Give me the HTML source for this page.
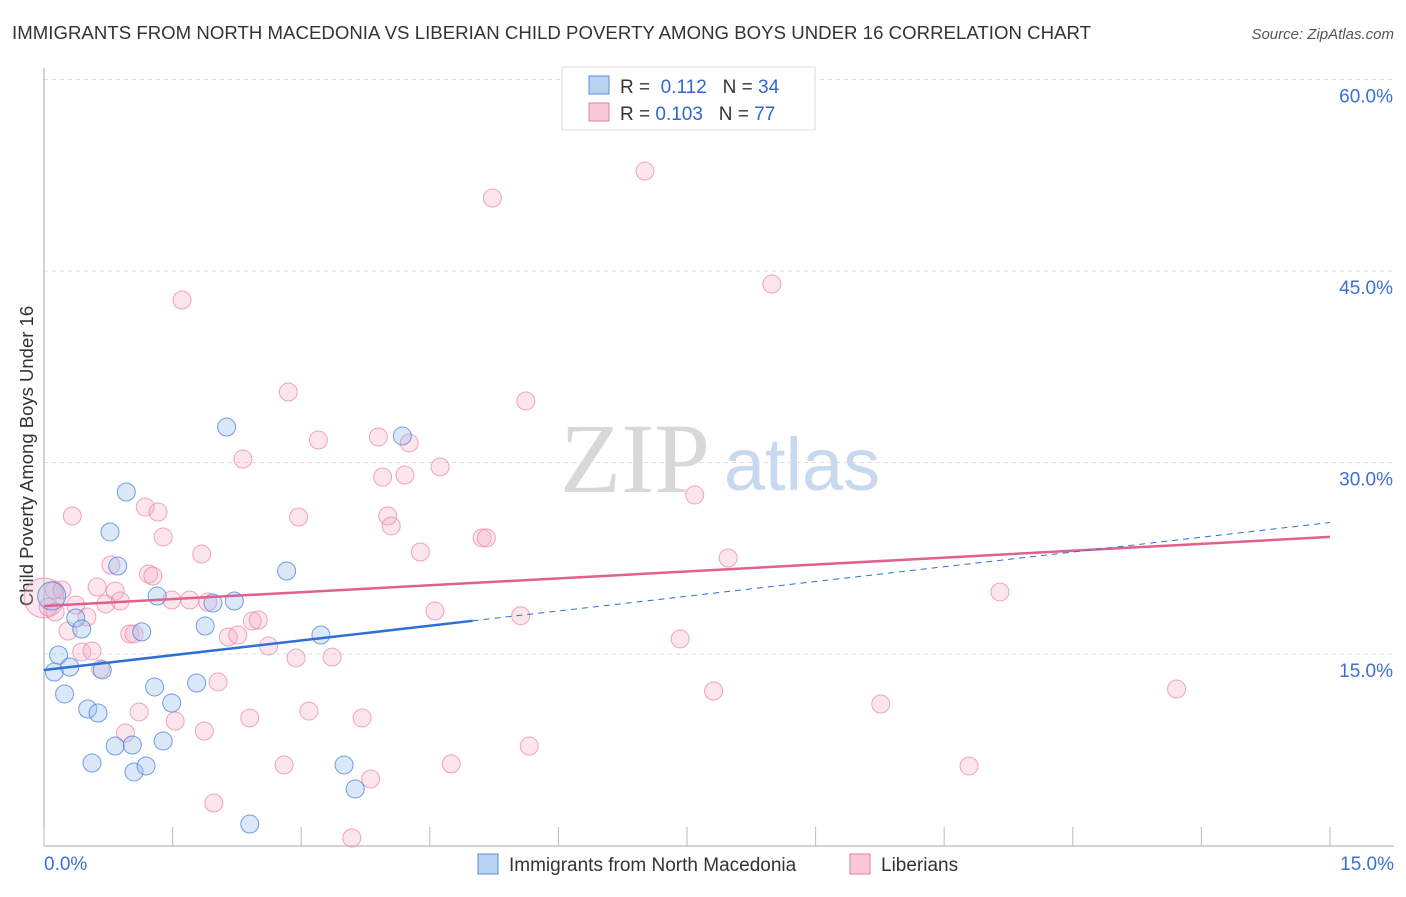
<!DOCTYPE html>
<html><head><meta charset="utf-8"><style>
body{margin:0;background:#fff;font-family:"Liberation Sans",sans-serif;}
</style></head><body>
<svg id="chart" width="1406" height="892" xmlns="http://www.w3.org/2000/svg" font-family="Liberation Sans, sans-serif">
<text x="12" y="39" font-size="18.6" fill="#333" textLength="1079">IMMIGRANTS FROM NORTH MACEDONIA VS LIBERIAN CHILD POVERTY AMONG BOYS UNDER 16 CORRELATION CHART</text>
<text x="1394" y="39" font-size="15" fill="#555" font-style="italic" text-anchor="end">Source: ZipAtlas.com</text>
<text x="33" y="456" font-size="18.5" fill="#333" text-anchor="middle" transform="rotate(-90 33 456)">Child Poverty Among Boys Under 16</text>
<g><text x="635" y="492" font-size="100" fill="#d8d8d8" style="font-family:'Liberation Serif',serif" text-anchor="middle">ZIP</text><text x="802" y="490" font-size="74" fill="#c8d8ee" text-anchor="middle">atlas</text></g>
<g id="grid"></g><g id="axes"></g><g id="marks"></g>
<g>
<rect x="562" y="67" width="253" height="63" fill="#fff" stroke="#ddd"/>
<rect x="589" y="76" width="20" height="18" fill="#b9d3f5" stroke="#5b8fd8"/>
<rect x="589" y="103" width="20" height="18" fill="#f9c9d8" stroke="#e77fa2"/>
<text x="620" y="93" font-size="19" fill="#333">R = <tspan fill="#3366cc">&#160;0.112</tspan>&#160;&#160;&#160;N = <tspan fill="#3366cc">34</tspan></text>
<text x="620" y="120" font-size="19" fill="#333">R = <tspan fill="#3366cc">0.103</tspan>&#160;&#160;&#160;N = <tspan fill="#3366cc">77</tspan></text>
</g>
<g>
<rect x="478" y="854" width="20" height="20" fill="#b9d3f5" stroke="#5b8fd8"/>
<text x="509" y="871" font-size="19" fill="#333">Immigrants from North Macedonia</text>
<rect x="850" y="854" width="20" height="20" fill="#f9c9d8" stroke="#e77fa2"/>
<text x="881" y="871" font-size="19" fill="#333">Liberians</text>
</g>
</svg>
<script>
const blueX=[.09,.12,.17,.30,.24,.37,.44,.51,.56,.63,.68,.77,.83,.86,.96,1.03,1.05,1.14,1.19,1.29,1.32,1.39,1.49,1.78,1.88,1.97,2.13,2.22,2.40,2.83,3.23,3.50,3.63,4.18];
const blueY=[19.54,13.59,14.92,13.98,11.87,17.82,16.96,10.69,6.46,10.38,13.75,24.56,7.79,21.89,27.69,7.87,5.76,16.73,6.23,12.42,19.54,8.19,11.16,12.73,17.19,18.99,32.78,19.15,1.68,21.50,16.49,6.31,4.43,32.08];
const pinkX=[0,.05,.13,.12,.21,.28,.33,.37,.44,.50,.56,.62,.66,.72,.78,.83,.89,.95,1.00,1.05,1.11,1.18,1.22,1.27,1.33,1.39,1.49,1.53,1.61,1.70,1.84,1.87,1.91,1.98,2.03,2.15,2.26,2.32,2.40,2.43,2.50,2.62,2.80,2.85,2.94,2.97,3.09,3.20,3.36,3.59,3.71,3.81,3.90,3.95,4.01,4.05,4.21,4.26,4.39,4.56,4.62,4.75,5.11,5.16,5.23,5.56,5.62,5.66,7.01,7.42,7.59,7.81,7.98,8.49,9.76,10.79,11.15,13.21];
const pinkY=[19.39,18.68,18.29,20.01,20.01,16.80,25.81,18.84,15.16,17.90,15.24,20.25,13.83,18.92,21.97,19.93,19.15,8.81,16.57,16.57,10.46,26.51,21.27,21.11,26.12,24.16,19.23,9.75,42.73,19.23,22.83,8.97,19.07,3.33,12.81,16.33,16.49,30.27,9.99,17.58,17.66,15.63,6.31,35.52,14.69,25.73,10.53,31.76,14.76,0.59,9.99,5.21,32.00,28.86,25.81,25.03,29.02,31.53,22.99,18.37,29.65,6.39,24.09,24.09,50.72,18.0,34.82,7.79,52.83,16.18,27.46,12.10,22.52,43.98,11.08,6.23,19.86,12.26];
const yTicks=[15,30,45,60];
const yTickLabels=["15.0%","30.0%","45.0%","60.0%"];
const xTicks=[0,1.5,3,4.5,6,7.5,9,10.5,12,13.5,15];
const blueTrend=[13.75,17.6,25.3];
const pinkTrend=[18.76,24.17];
const NS="http://www.w3.org/2000/svg";
const X=v=>44+v/15*1286, Y=v=>845.5-v/15*191.5;
function mk(t,a,p){const e=document.createElementNS(NS,t);for(const k in a)e.setAttribute(k,a[k]);document.getElementById(p).appendChild(e);return e;}
yTicks.forEach((t,i)=>{
 const g=mk('line',{x1:44,x2:1394,y1:Y(t),y2:Y(t),stroke:'#ddd','stroke-dasharray':'4,4'},'grid');
 
 
 const l=mk('text',{x:1393,y:Y(t)+23,'font-size':19,fill:'#3b6fd1','text-anchor':'end'},'axes');
 l.textContent=yTickLabels[i];
 
 
});
const ax=mk('line',{x1:44,x2:44,y1:68,y2:846,stroke:'#aaa'},'axes');


const bx=mk('line',{x1:44,x2:1394,y1:846,y2:846,stroke:'#aaa'},'axes');


xTicks.forEach(t=>{const k=mk('line',{x1:X(t),x2:X(t),y1:827,y2:846,stroke:'#bbb'},'axes');
 
 });
const x0=mk('text',{x:44,y:870,'font-size':19,fill:'#3b6fd1'},'axes');x0.textContent='0.0%';


const x1=mk('text',{x:1394,y:870,'font-size':19,fill:'#3b6fd1','text-anchor':'end'},'axes');x1.textContent='15.0%';


pinkX.forEach((v,i)=>{const c=mk('circle',{cx:X(v),cy:Y(pinkY[i]),r:i===0?20:9,fill:'rgba(246,170,195,0.3)',stroke:'rgba(232,120,160,0.65)','stroke-width':1},'marks');
 
 });
blueX.forEach((v,i)=>{const c=mk('circle',{cx:X(v),cy:Y(blueY[i]),r:i===0?14:9,fill:'rgba(150,190,240,0.35)',stroke:'rgba(70,130,215,0.75)','stroke-width':1},'marks');
 
 });
const pt=mk('line',{x1:X(0),y1:Y(pinkTrend[0]),x2:X(15),y2:Y(pinkTrend[1]),stroke:'#e0608e','stroke-width':2.5},'marks');


const bt=mk('line',{x1:X(0),y1:Y(blueTrend[0]),x2:X(5),y2:Y(blueTrend[1]),stroke:'#2e6fd6','stroke-width':2.5},'marks');


const bd=mk('line',{x1:X(5),y1:Y(blueTrend[1]),x2:X(15),y2:Y(blueTrend[2]),stroke:'#2e6fd6','stroke-width':1,'stroke-dasharray':'6,5'},'marks');


</script>
</body></html>
